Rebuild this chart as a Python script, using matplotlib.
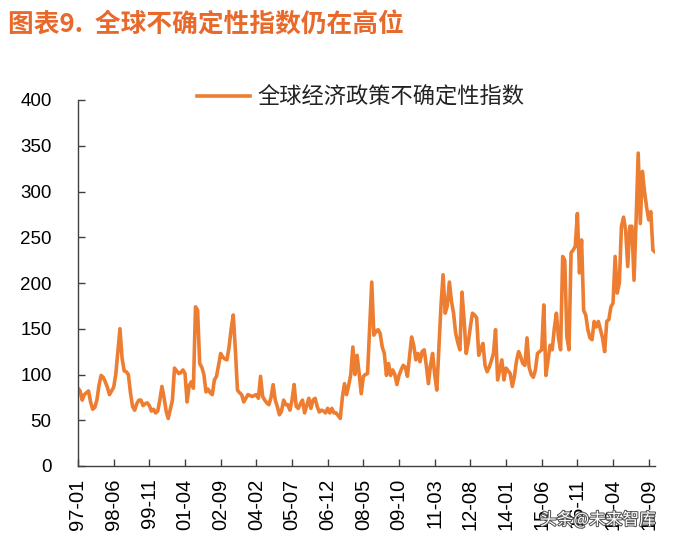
import matplotlib
matplotlib.use("Agg")
import matplotlib.pyplot as plt
import matplotlib.patheffects as pe
import numpy as np

# ---- data (monthly, 1997-01 .. 2019-12) ----
gepu = [
    85, 82, 72, 78, 80, 82, 70, 62, 64, 72,
    88, 99, 97, 92, 86, 78, 82, 86, 100, 125,
    150, 118, 104, 103, 100, 80, 65, 61, 68, 72,
    72, 66, 68, 69, 66, 60, 62, 58, 60, 72,
    87, 75, 60, 52, 62, 72, 107, 104, 101, 102,
    105, 101, 70, 88, 92, 85, 174, 170, 112, 108,
    100, 81, 84, 80, 78, 94, 98, 110, 123, 119,
    117, 116, 130, 150, 165, 127, 83, 80, 78, 70,
    74, 78, 77, 76, 77, 78, 74, 98, 76, 72,
    69, 67, 75, 89, 72, 65, 56, 60, 72, 67,
    67, 61, 72, 89, 65, 63, 68, 72, 58, 66,
    74, 63, 72, 74, 65, 59, 61, 60, 58, 63,
    58, 63, 58, 58, 55, 52, 75, 90, 78, 88,
    100, 130, 100, 121, 101, 79, 98, 100, 101, 150,
    201, 143, 147, 149, 145, 130, 123, 99, 112, 99,
    105, 100, 89, 99, 105, 110, 108, 98, 120, 141,
    132, 116, 123, 114, 125, 127, 110, 90, 110, 123,
    100, 83, 130, 175, 209, 167, 175, 201, 180, 167,
    145, 135, 127, 190, 160, 123, 135, 152, 167, 165,
    162, 121, 128, 134, 110, 103, 108, 115, 123, 149,
    94, 105, 116, 94, 107, 104, 101, 87, 98, 115,
    125, 119, 112, 110, 140, 108, 100, 97, 105, 123,
    125, 127, 176, 99, 115, 132, 127, 150, 167, 140,
    127, 229, 225, 141, 127, 233, 236, 240, 276, 211,
    247, 170, 165, 149, 140, 138, 158, 152, 158, 149,
    140, 125, 158, 160, 174, 178, 229, 189, 200, 262,
    272, 258, 218, 262, 262, 203, 269, 342, 265, 322,
    300, 283, 269, 278, 236, 234,
]
start_year, start_month = 1997, 1
tick_step = 17
series_name = "全球经济政策不确定性指数"
title_text = "图表9.  全球不确定性指数仍在高位"
yticks = [0, 50, 100, 150, 200, 250, 300, 350, 400]

n = len(gepu)
labels = []
for i in range(n):
    m = start_month - 1 + i
    y = start_year + m // 12
    labels.append(f"{y % 100:02d}-{m % 12 + 1:02d}")

plt.rcParams['font.family'] = ['Liberation Sans', 'Noto Sans CJK SC', 'DejaVu Sans']

fig = plt.figure(figsize=(6.81, 5.46), dpi=100)
ax = fig.add_axes([78/681, 80/546, 577/681, 366/546])

x = np.arange(n)
line_color = '#ED7D31'
ax.plot(x, gepu, color=line_color, lw=2.6, solid_joinstyle='round', label=series_name)

ax.set_xlim(0, n - 1)
ax.set_ylim(0, 400)
ax.set_yticks(yticks)
ax.set_yticklabels([str(v) for v in yticks])
tick_pos = list(range(0, n, tick_step))
ax.set_xticks(tick_pos)
ax.set_xticklabels([labels[i] for i in tick_pos], rotation=90)

for s in ['top', 'right']:
    ax.spines[s].set_visible(False)
for s in ['left', 'bottom']:
    ax.spines[s].set_color('#404040')
    ax.spines[s].set_linewidth(1.0)

ax.tick_params(axis='y', direction='in', length=5, width=1, color='#404040',
               labelsize=13.5, pad=19, labelcolor='black')
ax.tick_params(axis='x', direction='in', length=5, width=1, color='#404040',
               labelsize=14.5, pad=9, labelcolor='black')

leg = ax.legend(loc='center', bbox_to_anchor=(0.49, 1.008), frameon=False,
                handlelength=2.4, handletextpad=0.35,
                prop={'family': ['Noto Sans CJK SC'], 'size': 16})
for t in leg.get_texts():
    t.set_color('#222222')

fig.text(8/681, 1 - 25/546, title_text, color='#E8692A', fontsize=18.5,
         fontweight='bold', family=['Noto Sans CJK SC', 'DejaVu Sans'],
         ha='left', va='center')

fig.text(540/681, 1 - 520/546, "头条@未来智库", color='white', fontsize=12,
         family=['Noto Sans CJK SC'], ha='left', va='center',
         path_effects=[pe.withStroke(linewidth=1.5, foreground='#555555')])

fig.savefig("out.png", dpi=100)
